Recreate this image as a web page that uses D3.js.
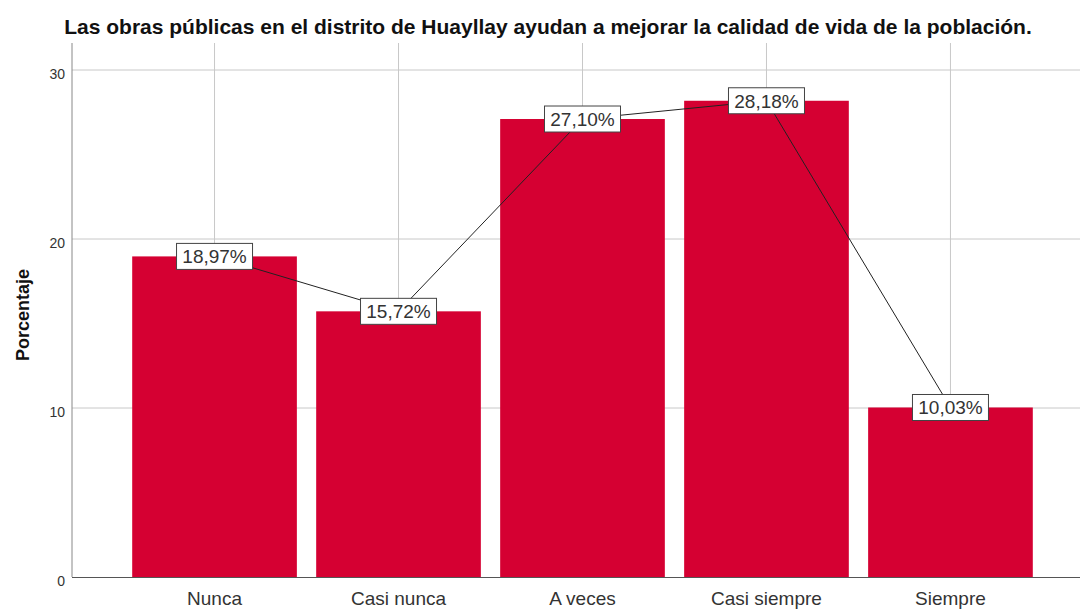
<!DOCTYPE html>
<html>
<head>
<meta charset="utf-8">
<script src="https://cdn.jsdelivr.net/npm/d3@7"></script>
<style>
  body { margin: 0; background: #fff; }
  svg { display: block; font-family: Arial, "Liberation Sans", sans-serif; }
</style>
</head>
<body>
<div id="chart"></div>
<script>
const width = 1080;
const height = 610;

// Data
const categories = ["Nunca", "Casi nunca", "A veces", "Casi siempre", "Siempre"];
const percents = [18.97, 15.72, 27.10, 28.18, 10.03];
const yTicks = [0, 10, 20, 30];

const titleText = "Las obras públicas en el distrito de Huayllay ayudan a mejorar la calidad de vida de la población.";

const svg = d3.select("#chart")
    .append("svg")
    .attr("width", width)
    .attr("height", height);

// plot area
const plotLeft = 72, plotRight = 1080, plotTop = 43, plotBottom = 577;

const x = d3.scaleBand()
    .domain(categories)
    .range([123, 1042])
    .paddingInner(0.105)
    .paddingOuter(0.05);

const y = d3.scaleLinear()
    .domain([0, 30])
    .range([plotBottom, 70]);

// gridlines
svg.append("g")
    .selectAll("line.hgrid")
    .data(yTicks.filter(d => d > 0))
    .enter()
    .append("line")
    .attr("x1", plotLeft)
    .attr("x2", plotRight)
    .attr("y1", d => y(d))
    .attr("y2", d => y(d))
    .attr("stroke", "#c8c8c8")
    .attr("stroke-width", 1);

svg.append("g")
    .selectAll("line.vgrid")
    .data(categories)
    .enter()
    .append("line")
    .attr("x1", d => x(d) + x.bandwidth() / 2)
    .attr("x2", d => x(d) + x.bandwidth() / 2)
    .attr("y1", plotTop)
    .attr("y2", plotBottom)
    .attr("stroke", "#c8c8c8")
    .attr("stroke-width", 1);

// bars
svg.append("g")
    .selectAll("rect")
    .data(categories)
    .enter()
    .append("rect")
    .attr("x", d => x(d))
    .attr("width", x.bandwidth())
    .attr("y", (d, i) => y(percents[i]))
    .attr("height", (d, i) => y(0) - y(percents[i]))
    .attr("fill", "#d50032");

// axes lines
svg.append("line")
    .attr("x1", plotLeft).attr("x2", plotLeft)
    .attr("y1", plotTop).attr("y2", plotBottom)
    .attr("stroke", "#888").attr("stroke-width", 1);
svg.append("line")
    .attr("x1", plotLeft).attr("x2", plotRight)
    .attr("y1", plotBottom + 0.5).attr("y2", plotBottom + 0.5)
    .attr("stroke", "#555").attr("stroke-width", 1);

// y tick labels
svg.append("g")
    .selectAll("text")
    .data(yTicks)
    .enter()
    .append("text")
    .attr("x", 65)
    .attr("y", d => y(d) + 9)
    .attr("text-anchor", "end")
    .style("font-size", "14px")
    .attr("fill", "#333")
    .text(d => d);

// x labels
svg.append("g")
    .selectAll("text")
    .data(categories)
    .enter()
    .append("text")
    .attr("x", d => x(d) + x.bandwidth() / 2)
    .attr("y", 605)
    .attr("text-anchor", "middle")
    .style("font-size", "19px")
    .attr("fill", "#333")
    .text(d => d);

// connecting line through label centers
const line = d3.line()
    .x((d, i) => x(categories[i]) + x.bandwidth() / 2)
    .y(d => y(d));

svg.append("path")
    .datum(percents)
    .attr("d", line)
    .attr("fill", "none")
    .attr("stroke", "#222")
    .attr("stroke-width", 1);

// value labels
const fmt = d => d.toFixed(2).replace(".", ",") + "%";
const labels = svg.append("g")
    .selectAll("g")
    .data(percents)
    .enter()
    .append("g")
    .attr("transform", (d, i) => `translate(${x(categories[i]) + x.bandwidth() / 2},${y(d)})`);

labels.append("rect")
    .attr("x", -38)
    .attr("y", -13)
    .attr("width", 76)
    .attr("height", 26)
    .attr("fill", "#fff")
    .attr("stroke", "#444")
    .attr("stroke-width", 1);

labels.append("text")
    .attr("text-anchor", "middle")
    .attr("y", 7)
    .style("font-size", "19px")
    .attr("fill", "#333")
    .text(fmt);

// y axis title
svg.append("text")
    .attr("transform", "translate(29,315) rotate(-90)")
    .attr("text-anchor", "middle")
    .style("font-size", "18px")
    .style("font-weight", "bold")
    .attr("fill", "#111")
    .text("Porcentaje");

// title
svg.append("text")
    .attr("x", 548)
    .attr("y", 34)
    .attr("text-anchor", "middle")
    .style("font-size", "21px")
    .style("font-weight", "bold")
    .attr("fill", "#111")
    .text(titleText);
</script>
</body>
</html>
